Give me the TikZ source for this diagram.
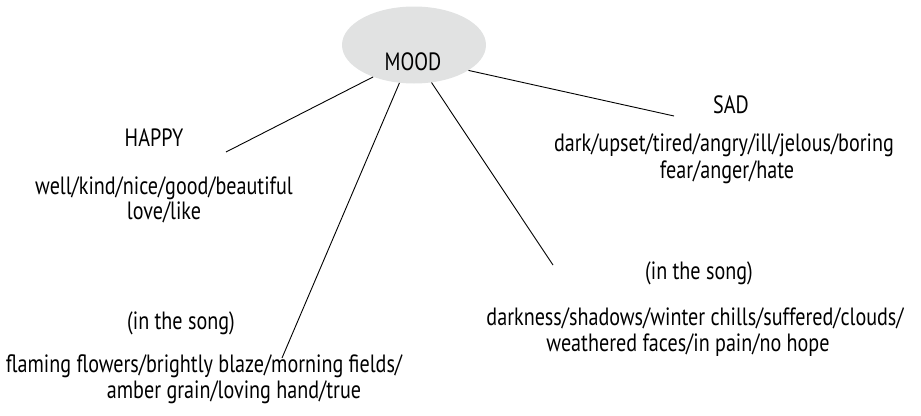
\documentclass[tikz,border=0pt]{standalone}
\usepackage{fontspec}
\setmainfont[FakeStretch=0.805]{PT Sans}
\usetikzlibrary{shapes.geometric}
\definecolor{moodgray}{HTML}{E1E2E2}
\tikzset{
  label text/.style={anchor=base, inner sep=0pt, font=\fontsize{25}{29}\selectfont},
  link/.style={draw=black, line width=0.9pt},
  hub/.style={ellipse, fill=moodgray, draw=none, inner sep=0pt,
              minimum width=144pt, minimum height=77pt}
}
\begin{document}
\begin{tikzpicture}[x=1pt, y=-1pt]
  \useasboundingbox (0,0) rectangle (921,415);

  % central bubble and its label
  \node[hub] (mood) at (414,45) {};
  \node[label text] (moodtxt) at (413,70) {MOOD};

  % happy branch
  \node[label text] (happy) at (154,146) {HAPPY};
  \node[label text] (happyA) at (164,194) {well/kind/nice/good/beautiful};
  \node[label text] (happyB) at (164,219) {love/like};

  % sad branch
  \node[label text] (sad) at (731,113) {SAD};
  \node[label text] (sadA) at (724,151) {dark/upset/tired/angry/ill/jelous/boring};
  \node[label text] (sadB) at (727,178) {fear/anger/hate};

  % song words, happy side
  \node[label text] (songL) at (181,329) {(in the song)};
  \node[label text] (songLA) at (204,372) {flaming flowers/brightly blaze/morning fields/};
  \node[label text] (songLB) at (234,398) {amber grain/loving hand/true};

  % song words, sad side
  \node[label text] (songR) at (699,279) {(in the song)};
  \node[label text] (songRA) at (695,325) {darkness/shadows/winter chills/suffered/clouds/};
  \node[label text] (songRB) at (688,351) {weathered faces/in pain/no hope};

  % free ends of the connectors
  \coordinate (endHappy) at (226,152);
  \coordinate (endSad) at (674,116);
  \coordinate (endSongL) at (282,358);
  \coordinate (endSongR) at (553,265);

  \draw[link] (mood.218.8) -- (endHappy);
  \draw[link] (mood.335.6) -- (endSad);
  \draw[link] (mood.249) -- (endSongL);
  \draw[link] (mood.295.4) -- (endSongR);
\end{tikzpicture}
\end{document}
